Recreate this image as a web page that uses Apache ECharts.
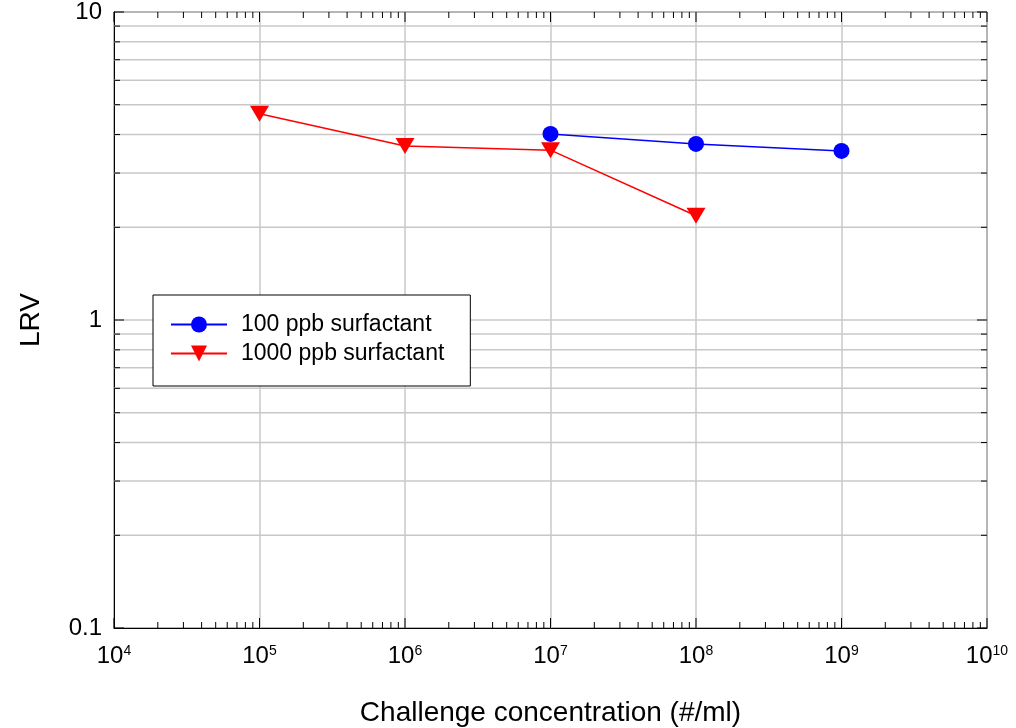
<!DOCTYPE html>
<html>
<head>
<meta charset="utf-8">
<script src="https://cdn.jsdelivr.net/npm/echarts@6/dist/echarts.min.js"></script>
<style>html,body{margin:0;padding:0;background:#fff;}#c{width:1016px;height:728px;}</style>
</head>
<body>
<div id="c"></div>
<script>
// ---- data ----
const seriesNames = ['100 ppb surfactant', '1000 ppb surfactant'];
const x100 = [1e7, 1e8, 1e9];
const y100 = [4.02, 3.73, 3.54];
const x1000 = [1e5, 1e6, 1e7, 1e8];
const y1000 = [4.67, 3.67, 3.56, 2.18];
// ---- tick values ----
const xDecades = [1e4, 1e5, 1e6, 1e7, 1e8, 1e9, 1e10];
const yDecades = [0.1, 1, 10];
const minorMultipliers = [2, 3, 4, 5, 6, 7, 8, 9];
const xMin = 1e4, xMax = 1e10, yMin = 0.1, yMax = 10;

const xMinor = [], yMinor = [];
xDecades.slice(0, -1).forEach(d => minorMultipliers.forEach(m => xMinor.push(d * m)));
yDecades.slice(0, -1).forEach(d => minorMultipliers.forEach(m => yMinor.push(d * m)));

const font = 'Arial, "Liberation Sans", sans-serif';
const chart = echarts.init(document.getElementById('c'));

function renderFrame(params, api) {
  const children = [];
  const minorLen = 6, majorLen = 10;
  const line = (x1, y1, x2, y2, stroke, w) => children.push({
    type: 'line', shape: {x1, y1, x2, y2}, style: {stroke, lineWidth: w}, silent: true
  });
  // minor horizontal grid lines
  yMinor.forEach(v => {
    const a = api.coord([xMin, v]), b = api.coord([xMax, v]);
    line(a[0], a[1], b[0], b[1], '#c8c8c8', 1.5);
  });
  // ticks
  const yTick = (v, len) => {
    const a = api.coord([xMin, v]), b = api.coord([xMax, v]);
    line(a[0], a[1], a[0] + len, a[1], '#000', 1);
    line(b[0], b[1], b[0] - len, b[1], '#000', 1);
  };
  const xTick = (v, len) => {
    const a = api.coord([v, yMin]), b = api.coord([v, yMax]);
    line(a[0], a[1], a[0], a[1] - len, '#000', 1);
    line(b[0], b[1], b[0], b[1] + len, '#000', 1);
  };
  yMinor.forEach(v => yTick(v, minorLen));
  yDecades.forEach(v => yTick(v, majorLen));
  xMinor.forEach(v => xTick(v, minorLen));
  xDecades.forEach(v => xTick(v, majorLen));
  return {type: 'group', children};
}

const option = {
  animation: false,
  backgroundColor: '#fff',
  grid: {left: 114, right: 29, top: 12, bottom: 100, outerBoundsMode: 'none', containLabel: false,
         show: true, borderColor: '#000', borderWidth: 1, backgroundColor: 'transparent'},
  legend: {
    orient: 'vertical',
    left: 153, top: 295,
    data: seriesNames,
    backgroundColor: '#fff',
    borderColor: '#000', borderWidth: 1,
    padding: [18, 26, 21, 17],
    itemWidth: 56, itemHeight: 20, itemGap: 6,
    textStyle: {fontFamily: font, fontSize: 23, color: '#000', lineHeight: 23, padding: [0, 0, 0, 9]}
  },
  xAxis: {
    type: 'log', logBase: 10, min: xMin, max: xMax,
    name: 'Challenge concentration (#/ml)', nameLocation: 'middle', nameGap: 71,
    nameTextStyle: {fontFamily: font, fontSize: 28, color: '#000'},
    axisLine: {show: true, lineStyle: {color: '#000', width: 1}},
    axisTick: {show: false},
    splitLine: {show: true, lineStyle: {color: '#c8c8c8', width: 1.5}},
    axisLabel: {
      margin: 16,
      formatter: v => '{b|10}{s|' + Math.round(Math.log10(v)) + '}',
      rich: {
        b: {fontFamily: font, fontSize: 24, color: '#000'},
        s: {fontFamily: font, fontSize: 14, color: '#000', verticalAlign: 'top'}
      }
    }
  },
  yAxis: {
    type: 'log', logBase: 10, min: yMin, max: yMax,
    name: 'LRV', nameLocation: 'middle', nameGap: 69,
    nameTextStyle: {fontFamily: font, fontSize: 28, color: '#000'},
    axisLine: {show: true, lineStyle: {color: '#000', width: 1}},
    axisTick: {show: false},
    splitLine: {show: true, lineStyle: {color: '#c8c8c8', width: 1.5}},
    axisLabel: {
      margin: 12, fontFamily: font, fontSize: 24, color: '#000',
      formatter: v => String(v)
    }
  },
  series: [
    {
      type: 'custom', z: 1, silent: true, coordinateSystem: 'cartesian2d',
      data: [[xMin, yMin]], renderItem: renderFrame, clip: false, legendHoverLink: false
    },
    {
      name: seriesNames[0], type: 'line', z: 3,
      data: x100.map((x, i) => [x, y100[i]]),
      symbol: 'circle', symbolSize: 16,
      itemStyle: {color: '#0000ff'},
      lineStyle: {color: '#0000ff', width: 1.5}
    },
    {
      name: seriesNames[1], type: 'line', z: 3,
      data: x1000.map((x, i) => [x, y1000[i]]),
      symbol: 'triangle', symbolRotate: 180, symbolSize: [19, 16],
      itemStyle: {color: '#ff0000'},
      lineStyle: {color: '#ff0000', width: 1.5}
    }
  ]
};
chart.setOption(option);
</script>
</body>
</html>
